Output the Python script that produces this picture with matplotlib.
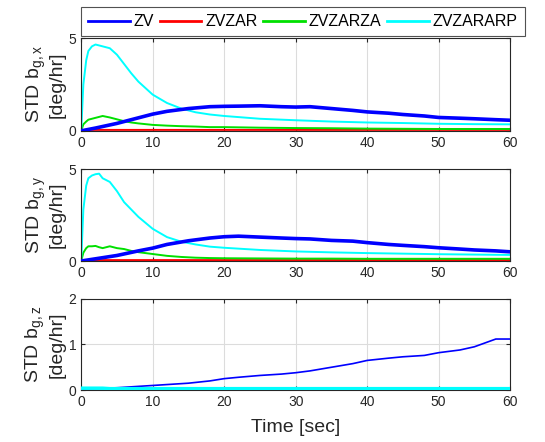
import matplotlib
matplotlib.use('Agg')
import matplotlib.pyplot as plt

plt.rcParams['font.family'] = ['Liberation Sans', 'DejaVu Sans']
plt.rcParams['mathtext.default'] = 'regular'

labels = ['ZV', 'ZVZAR', 'ZVZARZA', 'ZVZARARP']
colors = ['#0000ff', '#ff0000', '#00e000', '#00ffff']

# x axis (sec)
t_zv = [0, 2, 5, 8, 10, 12, 15, 18, 20, 22, 25, 28, 30, 32, 35, 38, 40, 43, 45, 48, 50, 53, 55, 58, 60]
zv_x = [0, 0.15, 0.4, 0.7, 0.9, 1.05, 1.2, 1.3, 1.32, 1.33, 1.35, 1.3, 1.28, 1.3, 1.2, 1.1, 1.02, 0.95, 0.88, 0.8, 0.72, 0.68, 0.65, 0.6, 0.57]
zv_y = [0, 0.12, 0.3, 0.55, 0.7, 0.9, 1.1, 1.25, 1.32, 1.35, 1.3, 1.25, 1.22, 1.2, 1.12, 1.08, 1.0, 0.9, 0.85, 0.78, 0.72, 0.65, 0.6, 0.55, 0.5]
zv_z = [0.02, 0.03, 0.05, 0.08, 0.1, 0.12, 0.15, 0.2, 0.25, 0.28, 0.32, 0.35, 0.38, 0.42, 0.5, 0.58, 0.65, 0.7, 0.73, 0.76, 0.82, 0.88, 0.95, 1.12, 1.12]

t_fast = [0, 0.3, 0.7, 1, 1.5, 2, 2.5, 3, 4, 5, 6, 7, 8, 10, 12, 14, 16, 18, 20, 25, 30, 35, 40, 45, 50, 55, 60]
arp_x = [0, 2.5, 3.8, 4.3, 4.55, 4.65, 4.6, 4.55, 4.45, 4.1, 3.6, 3.1, 2.65, 1.95, 1.5, 1.2, 1.0, 0.88, 0.8, 0.65, 0.57, 0.5, 0.45, 0.42, 0.38, 0.36, 0.35]
arp_y = [0, 2.8, 4.1, 4.5, 4.65, 4.72, 4.75, 4.5, 4.3, 3.8, 3.2, 2.8, 2.4, 1.75, 1.3, 1.05, 0.9, 0.78, 0.72, 0.6, 0.52, 0.47, 0.43, 0.4, 0.37, 0.35, 0.33]
za_x = [0, 0.35, 0.5, 0.6, 0.65, 0.7, 0.75, 0.8, 0.72, 0.62, 0.52, 0.45, 0.4, 0.32, 0.28, 0.25, 0.23, 0.2, 0.2, 0.17, 0.15, 0.14, 0.12, 0.11, 0.1, 0.1, 0.1]
za_y = [0, 0.45, 0.7, 0.8, 0.8, 0.82, 0.75, 0.7, 0.8, 0.7, 0.65, 0.55, 0.48, 0.38, 0.28, 0.22, 0.18, 0.16, 0.15, 0.14, 0.13, 0.13, 0.12, 0.12, 0.12, 0.12, 0.12]
zar_x = [0, 0.04, 0.05, 0.05, 0.05, 0.05, 0.05, 0.05, 0.05, 0.05, 0.05, 0.05, 0.05, 0.05, 0.05, 0.05, 0.05, 0.05, 0.05, 0.05, 0.05, 0.05, 0.05, 0.05, 0.05, 0.05, 0.05]
zar_y = zar_x
small_z = [0.04, 0.04, 0.04, 0.04, 0.04, 0.04, 0.04, 0.04, 0.03, 0.03, 0.03, 0.03, 0.03, 0.03, 0.03, 0.03, 0.03, 0.03, 0.03, 0.03, 0.03, 0.03, 0.03, 0.03, 0.03, 0.03, 0.03]

fig = plt.figure(figsize=(5.45, 4.42), dpi=100)
left, width = 0.149, 0.787
ax1 = fig.add_axes([left, 0.704, width, 0.210])
ax2 = fig.add_axes([left, 0.4095, width, 0.208])
ax3 = fig.add_axes([left, 0.1176, width, 0.206])

panels = [
    (ax1, zv_x, zar_x, za_x, arp_x, 'x', [0, 5]),
    (ax2, zv_y, zar_y, za_y, arp_y, 'y', [0, 5]),
    (ax3, zv_z, small_z, small_z, small_z, 'z', [0, 2]),
]

for ax, zv, zar, za, arp, comp, ylim in panels:
    lw_zv = 1.2 if comp == 'z' else 2.6
    lw_c = 2.5 if comp == 'z' else 1.4
    ax.plot(t_zv, zv, color=colors[0], lw=lw_zv, label=labels[0], zorder=3)
    ax.plot(t_fast, zar, color=colors[1], lw=1.4, label=labels[1], zorder=2)
    ax.plot(t_fast, za, color=colors[2], lw=1.4, label=labels[2], zorder=2)
    ax.plot(t_fast, arp, color=colors[3], lw=lw_c, label=labels[3], zorder=2 if comp != 'z' else 4)
    ax.set_xlim(0, 60)
    ax.set_ylim(*ylim)
    ax.set_xticks(range(0, 61, 10))
    if comp == 'z':
        ax.set_yticks([0, 1, 2])
    else:
        ax.set_yticks([0, 5])
    ax.grid(True, color='#dcdcdc', lw=0.8)
    ax.set_axisbelow(True)
    ax.tick_params(labelsize=10, colors='#262626', length=3, direction='in', top=True, right=True)
    for s in ax.spines.values():
        s.set_color('#262626')
        s.set_linewidth(0.8)
    ax.set_ylabel('STD b$_{g,%s}$\n[deg/hr]' % comp, fontsize=14, color='#262626', labelpad=2,
                  linespacing=1.1)

ax3.set_xlabel('Time [sec]', fontsize=14, color='#262626', labelpad=7)

handles, hl = ax1.get_legend_handles_labels()
leg = fig.legend(handles, hl, loc='center', ncol=4, fontsize=11.5,
                 bbox_to_anchor=(0.556, 0.951),
                 frameon=True, fancybox=False, edgecolor='#262626', handlelength=2.6,
                 handletextpad=0.25, columnspacing=0.35, borderpad=0.45, borderaxespad=0)
for h in leg.get_lines():
    h.set_linewidth(2.0)
leg.get_frame().set_linewidth(0.8)

fig.savefig('out.png', dpi=100)
